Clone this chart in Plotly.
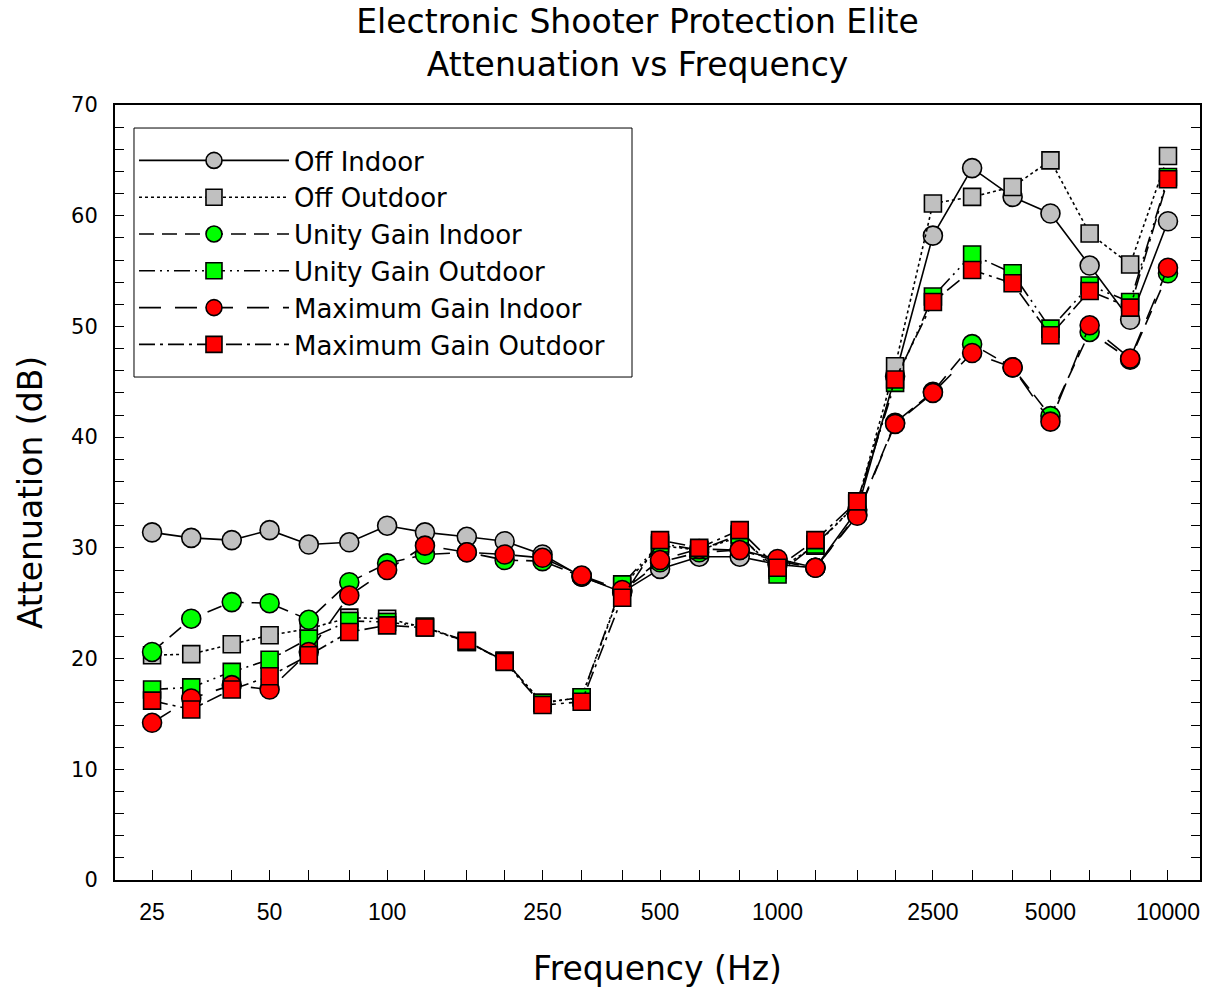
import plotly.graph_objects as go

freqs = [25, 31.5, 40, 50, 63, 80, 100, 125, 160, 200, 250, 315, 400, 500, 630,
         800, 1000, 1250, 1600, 2000, 2500, 3150, 4000, 5000, 6300, 8000, 10000]
tick_text = ["25", "", "", "50", "", "", "100", "", "", "", "250", "", "", "500", "",
             "", "1000", "", "", "", "2500", "", "", "5000", "", "", "10000"]
y_ticks = [0, 10, 20, 30, 40, 50, 60, 70]

off_indoor = [31.4, 30.9, 30.7, 31.6, 30.3, 30.5, 32.0, 31.4, 31.0, 30.6, 29.4, 27.4, 26.0, 28.1,
              29.2, 29.2, 28.5, 28.2, 33.4, 45.5, 58.2, 64.3, 61.7, 60.2, 55.5, 50.6, 59.5]
off_outdoor = [20.3, 20.4, 21.3, 22.1, 22.7, 23.7, 23.6, 22.8, 21.5, 19.8, 16.0, 16.5, 26.5, 30.2,
               29.8, 31.0, 28.0, 30.2, 34.0, 46.4, 61.1, 61.7, 62.6, 65.0, 58.4, 55.6, 65.4]
unity_indoor = [20.6, 23.6, 25.1, 25.0, 23.5, 26.9, 28.6, 29.4, 29.6, 28.9, 28.8, 27.4, 26.1, 28.7,
                29.6, 29.8, 28.8, 28.2, 33.0, 41.3, 44.1, 48.4, 46.3, 41.9, 49.5, 47.0, 54.8]
unity_outdoor = [17.2, 17.4, 18.8, 19.9, 21.8, 23.4, 23.3, 22.9, 21.5, 19.8, 16.0, 16.5, 26.7, 30.4,
                 29.8, 31.2, 27.6, 30.3, 34.0, 44.9, 52.7, 56.5, 54.8, 49.8, 53.7, 52.2, 63.5]
max_indoor = [14.2, 16.4, 17.6, 17.2, 20.6, 25.7, 28.0, 30.2, 29.6, 29.4, 29.1, 27.5, 26.2, 28.9,
              29.9, 29.8, 29.0, 28.2, 32.9, 41.2, 44.0, 47.6, 46.3, 41.4, 50.1, 47.1, 55.3]
max_outdoor = [16.2, 15.4, 17.2, 18.4, 20.3, 22.4, 23.0, 22.8, 21.6, 19.7, 15.8, 16.1, 25.5, 30.7,
               30.0, 31.6, 28.2, 30.7, 34.2, 45.2, 52.2, 55.1, 53.9, 49.2, 53.2, 51.7, 63.3]

series = [
    ("Off Indoor", off_indoor, "circle", "#C0C0C0", "solid", 19),
    ("Off Outdoor", off_outdoor, "square", "#C0C0C0", "dot", 17),
    ("Unity Gain Indoor", unity_indoor, "circle", "#00FF00", "15px,8px", 19),
    ("Unity Gain Outdoor", unity_outdoor, "square", "#00FF00", "16px,5px,2px,5px,2px,5px", 17),
    ("Maximum Gain Indoor", max_indoor, "circle", "#FF0000", "22px,14px", 19),
    ("Maximum Gain Outdoor", max_outdoor, "square", "#FF0000", "16px,5px,3px,5px", 17),
]

fig = go.Figure()
for name, vals, sym, col, dash, size in series:
    fig.add_trace(go.Scatter(
        x=freqs, y=vals, name=name, mode="lines+markers",
        line=dict(color="black", width=1.6, dash=dash),
        marker=dict(symbol=sym, size=size, color=col, line=dict(color="black", width=1.6)),
    ))

font_wide = "DejaVu Sans, Verdana, sans-serif"
font_main = "Liberation Sans, Arial, sans-serif"

# legend frame (drawn as a shape so it can have the reference's padding)
fig.add_shape(type="rect", xref="paper", yref="paper",
              x0=0.0175, x1=0.4765, y0=0.649, y1=0.9703,
              line=dict(color="black", width=1), fillcolor="white", layer="below")

fig.update_layout(
    width=1219, height=988,
    paper_bgcolor="white", plot_bgcolor="white",
    margin=dict(l=115, r=19, t=105, b=108, autoexpand=False),
    title=dict(text="Electronic Shooter Protection Elite<br>Attenuation vs Frequency",
               x=0.523, xref="container", xanchor="center",
               y=0.9669, yref="container", yanchor="top",
               font=dict(family=font_wide, size=33, color="black")),
    font=dict(family=font_wide, color="black"),
    showlegend=True,
    legend=dict(x=0.0175, y=0.9587, xanchor="left", yanchor="top",
                bgcolor="rgba(0,0,0,0)", borderwidth=0,
                font=dict(family=font_wide, size=26, color="black"),
                itemwidth=150, tracegroupgap=0),
    xaxis=dict(type="log", range=[1.303, 4.082], automargin=False,
               tickvals=freqs, ticktext=tick_text,
               ticks="inside", ticklen=10, tickwidth=1.2, tickcolor="black",
               ticklabelstandoff=10,
               showline=True, linecolor="black", linewidth=2, mirror=True,
               showgrid=False, zeroline=False,
               tickfont=dict(family=font_main, size=23, color="black"),
               title=dict(text="Frequency (Hz)", font=dict(family=font_wide, size=33, color="black"),
                          standoff=39)),
    yaxis=dict(range=[0, 70], tickvals=y_ticks, automargin=False,
               ticks="inside", ticklen=9, tickwidth=1.2, tickcolor="black",
               ticklabelstandoff=11,
               minor=dict(dtick=2, ticks="inside", ticklen=9, tickwidth=1.2, tickcolor="black", showgrid=False),
               showline=True, linecolor="black", linewidth=2, mirror="ticks",
               showgrid=False, zeroline=False,
               tickfont=dict(family=font_wide, size=21, color="black"),
               title=dict(text="Attenuation (dB)", font=dict(family=font_wide, size=33, color="black"),
                          standoff=19)),
)

fig.write_html("out.html", config={"displayModeBar": False},
               post_script="document.body.style.margin='0';")
